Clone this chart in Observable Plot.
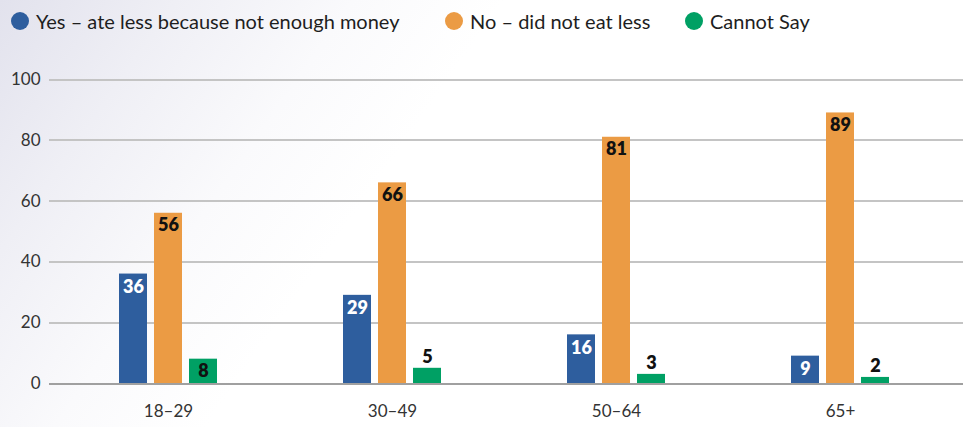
<!DOCTYPE html>
<html><head><meta charset="utf-8">
<script src="https://cdn.jsdelivr.net/npm/d3@7"></script>
<script src="https://cdn.jsdelivr.net/npm/@observablehq/plot@0.6"></script>
<style>
html,body{margin:0;padding:0;}
body{width:963px;height:427px;overflow:hidden;font-family:Lato,"Noto Sans",sans-serif;
  background:linear-gradient(125deg,#e2e2ed 0%,#efeff5 14%,#fafafc 28%,#ffffff 40%);}
#legend{position:relative;height:44px;font-size:20px;color:#1e1e1e;}
.item{position:absolute;top:10px;display:flex;align-items:center;white-space:nowrap;line-height:22px;}
.sw{width:18px;height:18px;border-radius:50%;margin-right:7px;flex:none;}
</style></head>
<body>
<div id="legend"></div>
<div id="chart"></div>
<script>
const groups = ["18–29", "30–49", "50–64", "65+"];
const seriesNames = ["Yes – ate less because not enough money", "No – did not eat less", "Cannot Say"];
const yesValues = [36, 29, 16, 9];
const noValues = [56, 66, 81, 89];
const cannotSayValues = [8, 5, 3, 2];
const seriesColors = ["#2e5e9e", "#eb9b44", "#00a064"];
const yTicks = [0, 20, 40, 60, 80, 100];
const legendLeft = [11, 445, 685];

const seriesValues = [yesValues, noValues, cannotSayValues];
const data = groups.flatMap((g, i) => seriesNames.map((s, j) => ({group: g, series: s, value: seriesValues[j][i]})));

const legend = document.getElementById("legend");
seriesNames.forEach((s, j) => {
  const it = document.createElement("div");
  it.className = "item";
  it.style.left = legendLeft[j] + "px";
  it.innerHTML = `<span class="sw" style="background:${seriesColors[j]}"></span><span>${s}</span>`;
  legend.appendChild(it);
});

const insideLabel = d => d.value >= 8;
const labelStyle = {x: "series", y: "value", text: d => String(d.value), fontWeight: 800, fontSize: 18, lineAnchor: "middle"};
const chart = Plot.plot({
  width: 963,
  height: 383,
  marginTop: 35,
  marginBottom: 44,
  marginLeft: 55,
  marginRight: 10,
  style: {background: "transparent", fontFamily: "Lato, 'Noto Sans', sans-serif", fontSize: "17px", color: "#333", overflow: "visible"},
  facet: {data, x: "group"},
  fx: {domain: groups, padding: 0, label: null, tickSize: 0, tickPadding: 21},
  x: {domain: seriesNames, paddingInner: 0.194, paddingOuter: 1.714, axis: null},
  y: {domain: [0, 100], ticks: yTicks, tickSize: 0, tickPadding: 16, label: null},
  color: {domain: seriesNames, range: seriesColors},
  marks: [
    Plot.ruleY(yTicks.filter(d => d > 0), {stroke: "#c4c4c4", strokeWidth: 2, insetLeft: -7, insetRight: -11, shapeRendering: "crispEdges"}),
    Plot.barY(data, {x: "series", y: "value", fill: "series"}),
    Plot.ruleY([0], {stroke: "#a0a0a0", strokeWidth: 2, insetLeft: -7, insetRight: -11, shapeRendering: "crispEdges"}),
    Plot.text(data, {...labelStyle, filter: d => insideLabel(d) && d.series === seriesNames[0], dy: 13, fill: "white"}),
    Plot.text(data, {...labelStyle, filter: d => insideLabel(d) && d.series !== seriesNames[0], dy: 12, fill: "#111"}),
    Plot.text(data, {...labelStyle, filter: d => !insideLabel(d), dy: -11, fill: "#111"})
  ]
});
document.getElementById("chart").appendChild(chart);
</script>
</body></html>
